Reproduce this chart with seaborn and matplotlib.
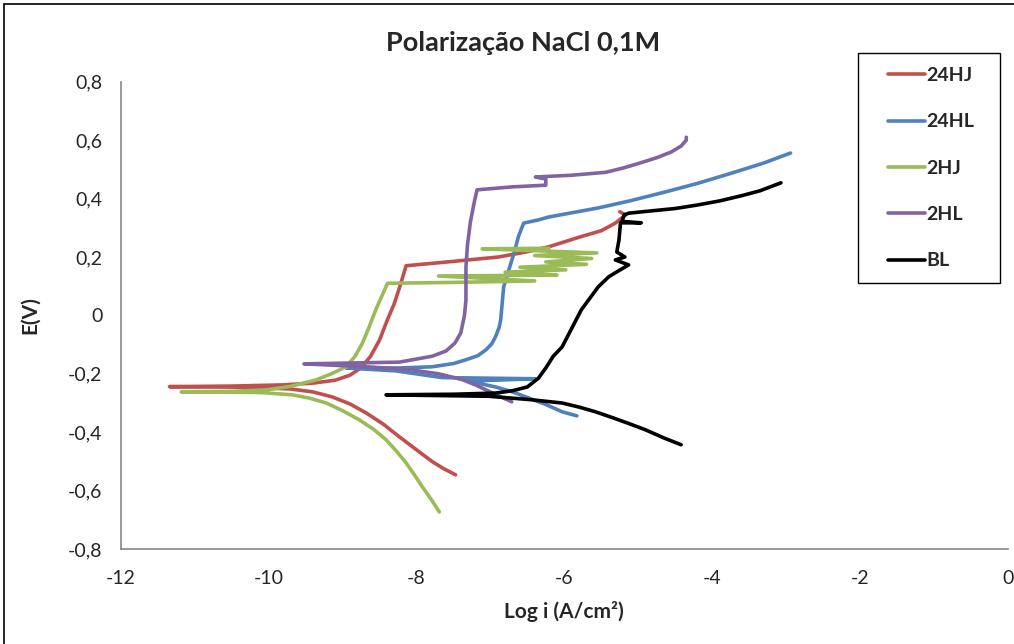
import pandas as pd
import matplotlib
matplotlib.use("Agg")
import matplotlib.pyplot as plt
import seaborn as sns
from matplotlib.patches import Rectangle

# Curvas (log i, E)
hj24_logi = [-7.47, -7.63, -7.79, -8.0, -8.23, -8.45, -8.68, -8.9, -9.14, -9.4, -9.7, -10.3, -11.34,
             -10.5, -9.81, -9.4, -9.1, -8.9, -8.75, -8.62, -8.5, -8.4, -8.3, -8.21, -8.14,
             -7.5, -6.89, -6.5, -6.21, -5.77, -5.5, -5.31, -5.17, -5.25]
hj24_e = [-0.546, -0.525, -0.500, -0.460, -0.416, -0.372, -0.334, -0.303, -0.279, -0.262, -0.252, -0.246, -0.244,
          -0.242, -0.238, -0.232, -0.222, -0.205, -0.18, -0.14, -0.085, -0.02, 0.04, 0.11, 0.17,
          0.185, 0.20, 0.218, 0.235, 0.27, 0.29, 0.316, 0.344, 0.355]

hl24_logi = [-5.83, -6.03, -6.25, -6.48, -6.7, -6.93, -7.3, -6.39, -7.65, -8.28, -8.95,
             -8.23, -7.79, -7.5, -7.33, -7.17, -7.06, -6.98, -6.93, -6.88, -6.86, -6.82, -6.75, -6.68,
             -6.62, -6.55, -6.35, -6.21, -5.54, -5.1, -4.63, -4.2, -3.74, -3.3, -2.94]
hl24_e = [-0.344, -0.33, -0.305, -0.283, -0.262, -0.245, -0.225, -0.217, -0.213, -0.19, -0.18,
          -0.18, -0.176, -0.165, -0.152, -0.138, -0.118, -0.097, -0.073, -0.04, -0.015, 0.098, 0.156, 0.213,
          0.27, 0.316, 0.327, 0.337, 0.368, 0.393, 0.423, 0.452, 0.487, 0.522, 0.556]

hj2_logi = [-7.69, -7.8, -7.92, -8.03, -8.14, -8.27, -8.41, -8.58, -8.77, -9.0, -9.22, -9.45, -9.68, -10.12,
            -11.18, -10.5, -10.03, -9.7, -9.36, -9.15, -8.95, -8.83, -8.73, -8.64, -8.55, -8.47, -8.39,
            -7.5, -6.4, -7.7, -6.1, -6.8, -5.98, -6.6, -5.7, -6.25, -5.63, -6.4, -5.56, -7.11, -6.21]
hj2_e = [-0.673, -0.63, -0.587, -0.545, -0.505, -0.465, -0.426, -0.39, -0.358, -0.326, -0.30, -0.283, -0.272, -0.264,
         -0.262, -0.26, -0.255, -0.243, -0.221, -0.2, -0.176, -0.14, -0.095, -0.04, 0.019, 0.065, 0.11,
         0.113, 0.118, 0.135, 0.138, 0.148, 0.156, 0.165, 0.175, 0.183, 0.195, 0.205, 0.214, 0.228, 0.23]

hl2_logi = [-6.71, -6.85, -7.02, -7.2, -7.38, -7.7, -8.06, -8.6, -9.18, -9.52,
            -8.23, -7.79, -7.6, -7.48, -7.4, -7.35, -7.33, -7.33, -7.31, -7.27, -7.22, -7.18,
            -6.71, -6.25, -6.25, -6.39, -5.90, -5.44, -5.2, -5.0, -4.75, -4.55, -4.42, -4.35, -4.35]
hl2_e = [-0.296, -0.28, -0.26, -0.238, -0.22, -0.2, -0.187, -0.177, -0.17, -0.166,
         -0.16, -0.14, -0.122, -0.095, -0.06, 0.0, 0.053, 0.166, 0.24, 0.32, 0.385, 0.43,
         0.44, 0.446, 0.467, 0.474, 0.48, 0.49, 0.505, 0.52, 0.54, 0.56, 0.58, 0.60, 0.61]

bl_logi = [-4.42, -4.65, -4.9, -5.13, -5.35, -5.58, -5.8, -6.03, -6.48, -7.02, -8.41,
           -7.5, -6.93, -6.7, -6.5, -6.35, -6.25, -6.15, -6.03, -5.77, -5.54, -5.40, -5.31, -5.13,
           -5.31, -5.18, -5.29, -5.26, -5.24, -4.96, -5.22, -5.19, -5.13, -4.9, -4.5, -4.2, -3.9,
           -3.6, -3.35, -3.07]
bl_e = [-0.443, -0.42, -0.392, -0.37, -0.35, -0.33, -0.314, -0.30, -0.288, -0.277, -0.272,
        -0.27, -0.266, -0.258, -0.245, -0.215, -0.18, -0.14, -0.108, 0.019, 0.098, 0.132, 0.146, 0.173,
        0.19, 0.2, 0.217, 0.259, 0.317, 0.317, 0.322, 0.344, 0.35, 0.356, 0.366, 0.378, 0.392,
        0.41, 0.427, 0.454]

amostras = ["24HJ", "24HL", "2HJ", "2HL", "BL"]
cores = ["#C0504D", "#4F81BD", "#9BBB59", "#8064A2", "#000000"]

frames = []
for nome, xs, ys in zip(amostras,
                        [hj24_logi, hl24_logi, hj2_logi, hl2_logi, bl_logi],
                        [hj24_e, hl24_e, hj2_e, hl2_e, bl_e]):
    frames.append(pd.DataFrame({"logi": xs, "E": ys, "amostra": nome}))
df = pd.concat(frames, ignore_index=True)

sns.set_style("white")
plt.rcParams["font.family"] = ["Lato", "DejaVu Sans"]

fig = plt.figure(figsize=(10.14, 6.44), dpi=100)
ax = fig.add_axes([0.119, 0.1475, 0.875, 0.7255])

sns.lineplot(data=df, x="logi", y="E", hue="amostra", hue_order=amostras,
             palette=dict(zip(amostras, cores)), sort=False, estimator=None,
             linewidth=2.6, ax=ax)

ax.set_xlim(-12, 0)
ax.set_ylim(-0.8, 0.8)
xt = [-12, -10, -8, -6, -4, -2, 0]
yt = [-0.8, -0.6, -0.4, -0.2, 0, 0.2, 0.4, 0.6, 0.8]
ax.set_xticks(xt)
ax.set_xticklabels([str(v) for v in xt], fontsize=14)
ax.set_yticks(yt)
ax.set_yticklabels(["0" if v == 0 else f"{v:.1f}".replace(".", ",") for v in yt], fontsize=14)
ax.tick_params(direction="out", length=5, width=1, color="#868686")
ax.tick_params(axis="x", pad=10)
ax.tick_params(axis="y", pad=8)

for s in ["top", "right"]:
    ax.spines[s].set_visible(False)
for s in ["left", "bottom"]:
    ax.spines[s].set_color("#868686")
    ax.spines[s].set_linewidth(1.2)

ax.set_xlabel("Log i (A/cm²)", fontsize=15, fontweight="bold", labelpad=10)
ax.set_ylabel("E(V)", fontsize=15, fontweight="bold", labelpad=20)
fig.text(0.516, 0.933, "Polarização NaCl 0,1M", ha="center", va="center",
         fontsize=19.5, fontweight="bold")

ax.legend(loc="upper left", bbox_to_anchor=(888 / 1014, 1 - 67 / 644), bbox_transform=fig.transFigure,
          frameon=False, prop={"weight": "bold", "size": 14}, labelspacing=1.51,
          handlelength=1.9, handletextpad=0.05, borderpad=0, borderaxespad=0, title=None)
fig.patches.append(Rectangle((858 / 1014, 1 - 283 / 644), 142 / 1014, 230 / 644,
                             transform=fig.transFigure, fill=False, edgecolor="black", linewidth=1.0))

fig.patches.append(Rectangle((0.004, -0.01), 1.1, 1 - 0.006 + 0.01, transform=fig.transFigure,
                             fill=False, edgecolor="black", linewidth=1.2))

fig.savefig("out.png", dpi=100)
